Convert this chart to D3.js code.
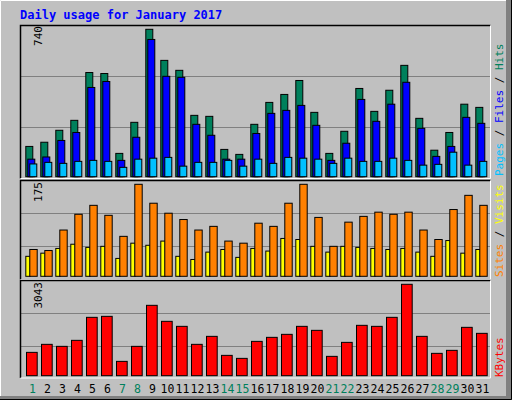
<!DOCTYPE html>
<html><head><meta charset="utf-8">
<script src="https://cdn.jsdelivr.net/npm/d3@7"></script>
<style>body{margin:0;background:#fff}svg{display:block}</style></head>
<body><svg id="c" width="512" height="400"></svg>
<script>
const days = d3.range(1,32).map(String);
const weekends = ["1","7","8","14","15","21","22","28","29"];
const hits  = [152,173,233,283,523,518,117,273,740,584,534,308,303,137,112,263,373,413,483,323,117,228,443,328,434,559,293,133,222,364,348];
const files = [88,99,182,222,448,478,82,198,689,504,499,263,208,88,88,217,318,333,358,258,82,168,388,278,364,474,243,102,152,298,268];
const pages = [64,72,67,77,82,77,47,88,93,97,53,72,72,82,53,88,67,97,93,88,67,93,77,77,93,82,58,62,123,58,77];
const sites = [38,44,53,61,55,57,34,63,59,67,38,32,46,51,36,53,48,72,70,57,46,57,55,53,51,53,46,38,68,44,51];
const visits= [51,49,88,118,135,116,76,175,139,120,108,88,95,67,63,101,95,139,175,112,57,103,114,122,118,122,88,70,127,154,135];
const kbytes= [777,1044,977,1177,1943,1976,477,977,2343,1810,1643,1044,1310,677,577,1143,1277,1377,1643,1510,644,1110,1677,1643,1943,3043,1310,744,844,1610,1410];
const maxLabels = ["740","175","3043"];
const grid1=[248,504], grid2=[57,120], grid3=[977,2077];

const svg=d3.select("#c");
const F="'DejaVu Sans Mono', monospace";
svg.append("rect").attr("width",512).attr("height",400).attr("fill","#c0c0c0");
svg.append("path").attr("d","M0.5,399 V0.5 H511").attr("stroke","#fff").attr("fill","none");
svg.append("rect").attr("x",506).attr("y",0).attr("width",6).attr("height",400).attr("fill","#808080");
svg.append("rect").attr("x",0).attr("y",396).attr("width",512).attr("height",4).attr("fill","#808080");
svg.append("path").attr("d","M0,399.5 H511.5 V0").attr("stroke","#000").attr("fill","none");
svg.append("text").attr("x",20).attr("y",19).attr("font-family",F).attr("font-weight","bold").attr("font-size",12).attr("fill","#0000ff").text("Daily usage for January 2017");

const x=d3.scaleBand().domain(days).range([24,489]).paddingInner(0);
function panel(y0,y1,base,top,max,grid){
  svg.append("rect").attr("x",20.5).attr("y",y0+0.5).attr("width",470).attr("height",y1-y0).attr("fill","#c0c0c0");
  const y=d3.scaleLinear().domain([0,max]).range([base,top]);
  grid.forEach(g=>svg.append("line").attr("x1",21).attr("x2",490).attr("y1",Math.round(y(g))+0.5).attr("y2",Math.round(y(g))+0.5).attr("stroke","#808080"));
  svg.append("path").attr("d",`M20.5,${y1+0.5} V${y0+0.5} H490.5`).attr("stroke","#000").attr("fill","none").attr("stroke-width",1.5);
  svg.append("path").attr("d",`M20.5,${y1+0.5} H490.5 V${y0+0.5}`).attr("stroke","#fff").attr("fill","none");
  return y;
}
function bars(y,data,off,w,color){
  svg.append("g").selectAll("rect").data(data).join("rect")
   .attr("x",(d,i)=>x(days[i])+off+0.5).attr("width",w)
   .attr("y",d=>y(d)).attr("height",d=>y(0)-y(d))
   .attr("fill",color).attr("stroke","#000").attr("stroke-width",1);
}
const y1=panel(25,178,176.7,29.3,740,grid1);
bars(y1,hits,1.3,7,"#00805c");bars(y1,files,3.3,7,"#0000ff");bars(y1,pages,5.3,7,"#00c0ff");
const y2=panel(180,279,276.3,184.3,175,grid2);
bars(y2,sites,1.3,4.4,"#ffff00");bars(y2,visits,5.3,7.4,"#ff8000");
const y3=panel(280,377.5,375.7,284.3,3043,grid3);
bars(y3,kbytes,2,10.7,"#ff0000");

svg.append("g").selectAll("text").data(days).join("text")
  .attr("x",d=>x(d)+x.bandwidth()/2+1).attr("y",393).attr("text-anchor","middle")
  .attr("font-family",F).attr("font-size",11.5)
  .attr("fill",d=>weekends.includes(d)?"#00805c":"#000").text(d=>d);

[[42,26],[42,182],[42,282]].forEach((p,i)=>svg.append("text").attr("transform",`translate(${p[0]},${p[1]}) rotate(-90)`)
  .attr("text-anchor","end").attr("font-family",F).attr("font-size",11).attr("fill","#000").text(maxLabels[i]));

function rlabel(yStart,parts){
  const t=svg.append("text").attr("transform",`translate(503,${yStart}) rotate(-90)`).attr("text-anchor","start")
    .attr("font-family",F).attr("font-size",11);
  parts.forEach(p=>t.append("tspan").attr("fill",p[1]).text(p[0]));
}
rlabel(176,[["Pages","#00c0ff"],[" / ","#000"],["Files","#0000ff"],[" / ","#000"],["Hits","#00805c"]]);
rlabel(277,[["Sites","#ff8000"],[" / ","#000"],["Visits","#ffff00"]]);
rlabel(377,[["KBytes","#ff0000"]]);
</script></body></html>
